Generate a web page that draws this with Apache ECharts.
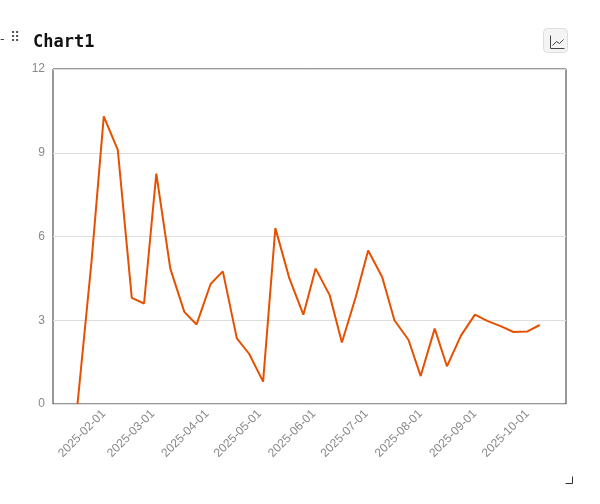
<!DOCTYPE html>
<html>
<head>
<meta charset="utf-8">
<script src="https://cdn.jsdelivr.net/npm/echarts@6/dist/echarts.min.js"></script>
<style>
  html, body { margin: 0; padding: 0; background: #fff; }
  #chart { width: 600px; height: 504px; }
</style>
</head>
<body>
<div id="chart"></div>
<script>
// data
const dates = [
    '2025-01-17', '2025-01-25', '2025-02-01', '2025-02-09', '2025-02-17', '2025-02-24',
    '2025-03-03', '2025-03-11', '2025-03-19', '2025-03-26', '2025-04-03', '2025-04-10',
    '2025-04-18', '2025-04-25', '2025-05-03', '2025-05-10', '2025-05-18', '2025-05-26',
    '2025-06-02', '2025-06-10', '2025-06-17', '2025-06-25', '2025-07-02', '2025-07-10',
    '2025-07-17', '2025-07-25', '2025-08-01', '2025-08-09', '2025-08-16', '2025-08-24',
    '2025-09-01', '2025-09-08', '2025-09-16', '2025-09-23', '2025-10-01', '2025-10-08',
];
const values = [
    0, 5.1, 10.3, 9.1, 3.8, 3.6,
    8.25, 4.85, 3.3, 2.85, 4.3, 4.75,
    2.35, 1.8, 0.8, 6.3, 4.5, 3.2,
    4.85, 3.9, 2.2, 3.85, 5.5, 4.55,
    3.0, 2.3, 1.0, 2.7, 1.35, 2.45,
    3.2, 2.98, 2.78, 2.58, 2.6, 2.83,
];
const yTicks = [0, 3, 6, 9, 12];

const labelFont = 'Liberation Sans';
const chart = echarts.init(document.getElementById('chart'));
chart.setOption({
    animation: false,
    title: {
        text: 'Chart1',
        left: 28,
        top: 29,
        textStyle: { fontFamily: 'DejaVu Sans Mono', fontWeight: 'bold', fontSize: 17, color: '#111' },
    },
    graphic: [
        { type: 'text', left: 0, top: 33, style: { text: '-', fill: '#444', font: '13px DejaVu Sans' } },
        { type: 'text', left: 10, top: 31, style: { text: '⠿', fill: '#555', font: '14px DejaVu Sans' } },
        {
            type: 'rect', left: 543, top: 28,
            shape: { width: 24, height: 24, r: 4 },
            style: { fill: '#f4f4f4', stroke: '#ddd', lineWidth: 1 },
        },
        {
            type: 'polyline', left: 548, top: 33,
            shape: { points: [[0, 0], [0, 13], [14, 13]] },
            style: { stroke: '#444', fill: null, lineWidth: 1 },
        },
        {
            type: 'polyline', left: 550, top: 37,
            shape: { points: [[0, 6], [4, 2], [7, 4], [11, 0]] },
            style: { stroke: '#444', fill: null, lineWidth: 1 },
        },
        {
            type: 'polyline', left: 563, top: 474,
            shape: { points: [[7, 0], [7, 7], [0, 7]] },
            style: { stroke: '#333', fill: null, lineWidth: 1 },
        },
    ],
    grid: { left: 53, right: 34, top: 69, bottom: 100, show: true, borderColor: '#333', borderWidth: 1 },
    xAxis: {
        type: 'time',
        min: '2025-01-03',
        max: '2025-10-23',
        splitNumber: 8,
        axisLine: { show: false },
        axisTick: { show: false },
        splitLine: { show: false },
        axisLabel: {
            rotate: 45,
            color: '#888',
            fontFamily: labelFont,
            fontSize: 12,
            hideOverlap: false,
            formatter: v => echarts.time.format(v, '{yyyy}-{MM}-{dd}', false),
        },
    },
    yAxis: {
        type: 'value',
        min: yTicks[0],
        max: yTicks[yTicks.length - 1],
        interval: 3,
        axisLine: { show: false },
        axisTick: { show: false },
        axisLabel: { color: '#888', fontFamily: labelFont, fontSize: 12, margin: 8 },
        splitLine: { lineStyle: { color: '#ddd' } },
    },
    series: [
        {
            type: 'line',
            data: dates.map((d, i) => [d, values[i]]),
            showSymbol: false,
            lineStyle: { color: '#e65100', width: 2 },
        },
    ],
});
</script>
</body>
</html>
